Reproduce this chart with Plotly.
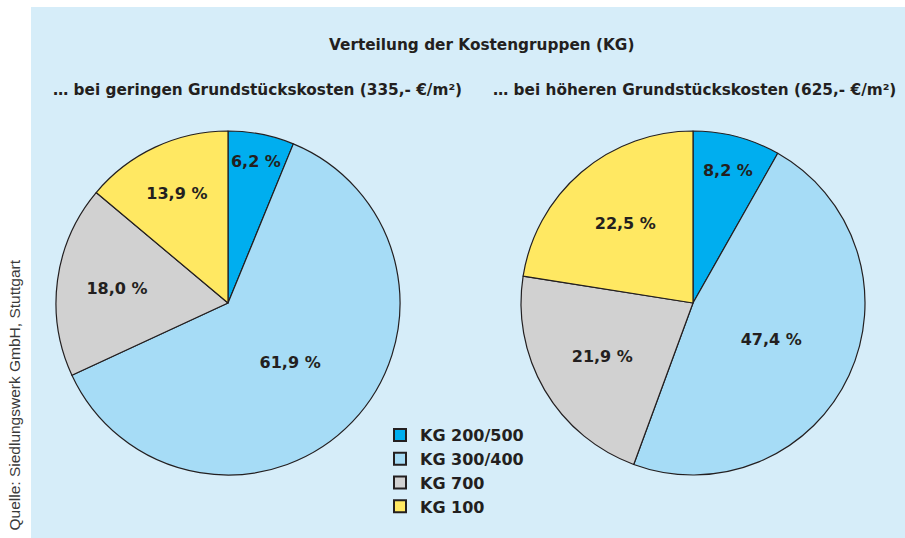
import plotly.graph_objects as go

categories = ["KG 200/500", "KG 300/400", "KG 700", "KG 100"]
low_cost = [6.2, 61.9, 18.0, 13.9]
high_cost = [8.2, 47.4, 21.9, 22.5]
colors = ["#00aeef", "#a6dcf6", "#d1d1d1", "#ffe862"]

title_text = "Verteilung der Kostengruppen (KG)"
sub_left = "… bei geringen Grundstückskosten (335,- €/m²)"
sub_right = "… bei höheren Grundstückskosten (625,- €/m²)"
source_text = "Quelle: Siedlungswerk GmbH, Stuttgart"

W, H = 905, 538
ink = "#231f20"
bold_font = dict(family="DejaVu Sans, Liberation Sans, Arial", size=16,
                 color=ink, weight="bold")
head_font = dict(bold_font, size=15.3)


def fmt(vals):
    return [f"{v:.1f} %".replace(".", ",") for v in vals]


def pie(vals, x0, x1, show):
    return go.Pie(
        labels=categories, values=vals, text=fmt(vals),
        textinfo="text", textposition="inside",
        insidetextorientation="horizontal",
        textfont=bold_font,
        marker=dict(colors=colors, line=dict(color=ink, width=1.2)),
        sort=False, direction="clockwise", rotation=0,
        domain=dict(x=[x0 / W, x1 / W], y=[(H - 475) / H, (H - 131) / H]),
        showlegend=show, hoverinfo="label+percent",
    )


fig = go.Figure()
fig.add_trace(pie(low_cost, 56, 400, True))
fig.add_trace(pie(high_cost, 521, 865, False))

# light blue panel
fig.add_shape(type="rect", xref="paper", yref="paper",
              x0=31 / W, x1=1, y0=0, y1=(H - 7) / H,
              fillcolor="#d6edf9", line_width=0, layer="below")

for txt, cx, cy in [(title_text, 481, 45), (sub_left, 257, 90), (sub_right, 694, 90)]:
    fig.add_annotation(text=txt, x=cx / W, y=(H - cy) / H,
                       xref="paper", yref="paper", showarrow=False,
                       xanchor="center", yanchor="middle", font=head_font)

fig.add_annotation(text=source_text, x=14 / W, y=(H - 258) / H,
                   xanchor="center", yanchor="top",
                   xref="paper", yref="paper", showarrow=False, textangle=-90,
                   font=dict(family="Liberation Sans, Arial", size=15.5, color="#3a3a3a"))

fig.update_layout(
    width=W, height=H,
    margin=dict(l=0, r=0, t=0, b=0, autoexpand=False),
    paper_bgcolor="white",
    legend=dict(x=380 / W, y=(H - 418) / H, xanchor="left", yanchor="top",
                bgcolor="rgba(0,0,0,0)", font=bold_font,
                itemsizing="constant", tracegroupgap=0),
)

fig.write_html("out.html", config={"displayModeBar": False},
               post_script="document.body.style.margin='0px';")
